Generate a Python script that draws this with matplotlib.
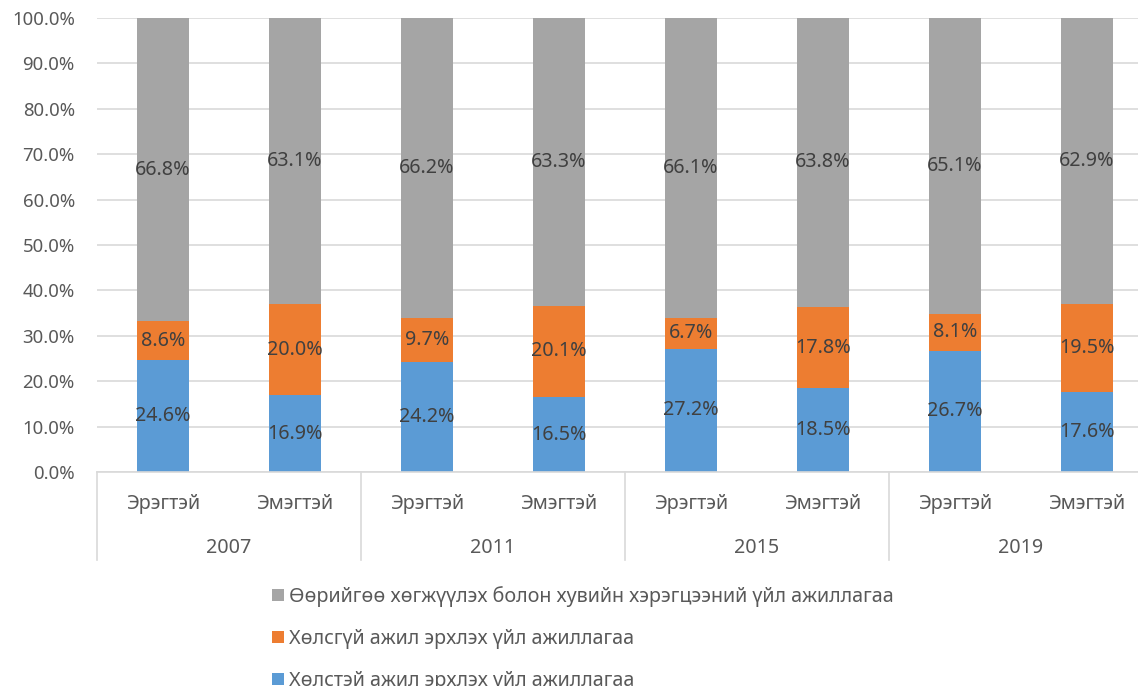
import numpy as np
import matplotlib
matplotlib.use("Agg")
import matplotlib.pyplot as plt
from matplotlib.patches import Patch

plt.rcParams['font.family'] = ['Noto Sans', 'DejaVu Sans']

years = ['2007', '2011', '2015', '2019']
genders = ['Эрэгтэй', 'Эмэгтэй']
series_names = [
    'Хөлстэй ажил эрхлэх үйл ажиллагаа',
    'Хөлсгүй ажил эрхлэх үйл ажиллагаа',
    'Өөрийгөө хөгжүүлэх болон хувийн хэрэгцээний үйл ажиллагаа',
]
paid = [24.6, 16.9, 24.2, 16.5, 27.2, 18.5, 26.7, 17.6]
unpaid = [8.6, 20.0, 9.7, 20.1, 6.7, 17.8, 8.1, 19.5]
personal = [66.8, 63.1, 66.2, 63.3, 66.1, 63.8, 65.1, 62.9]
colors = ['#5B9BD5', '#ED7D31', '#A5A5A5']

text_col = '#595959'
label_col = '#404040'
grid_col = '#D9D9D9'
fs = 14.2

fig = plt.figure(figsize=(11.38, 6.86), dpi=100)
ax = fig.add_axes([97 / 1138, 1 - 472 / 686, 1056 / 1138, 454 / 686])

x = np.arange(len(paid))
width = 0.394
bottom = np.zeros(len(paid))
for vals, col in zip([paid, unpaid, personal], colors):
    vals = np.array(vals)
    ax.bar(x, vals, width, bottom=bottom, color=col, zorder=2)
    for xi, b, v in zip(x, bottom, vals):
        ax.text(xi, b + v / 2, f'{v:.1f}%', ha='center', va='center',
                fontsize=fs, color=label_col, zorder=3)
    bottom += vals

ax.set_xlim(-0.5, len(paid) - 0.5)
ax.set_ylim(0, 100)
ax.set_yticks(np.arange(0, 101, 10))
ax.set_yticklabels([f'{v:.1f}%' for v in range(0, 101, 10)])
ax.tick_params(axis='y', length=0, pad=16, labelsize=13.4, labelcolor=text_col)
ax.grid(axis='y', color=grid_col, linewidth=1.2, zorder=0)
for s in ['top', 'right', 'left']:
    ax.spines[s].set_visible(False)
ax.spines['bottom'].set_color(grid_col)
ax.spines['bottom'].set_linewidth(1.2)

# two-level category axis: gender on top, year underneath
ax.set_xticks([])
trans = ax.get_xaxis_transform()
for i in x:
    ax.text(i, -32 / 454, genders[i % 2], transform=trans, ha='center',
            va='center', fontsize=fs, color=text_col)
for j, yr in enumerate(years):
    ax.text(2 * j + 0.5, -76 / 454, yr, transform=trans, ha='center',
            va='center', fontsize=fs, color=text_col)
for b in np.arange(-0.5, len(paid), 2):
    ax.plot([b, b], [0, -88 / 454], transform=trans, color=grid_col,
            linewidth=1.2, clip_on=False)

handles = [Patch(facecolor=c) for c in colors[::-1]]
fig.legend(handles, series_names[::-1], loc='upper left',
           bbox_to_anchor=(272 / 1138, 1 - 586 / 686), frameon=False,
           fontsize=fs, labelcolor=text_col, handlelength=0.6,
           handleheight=0.6, handletextpad=0.25, labelspacing=1.12,
           borderpad=0, borderaxespad=0)

fig.savefig('out.png', dpi=100)
